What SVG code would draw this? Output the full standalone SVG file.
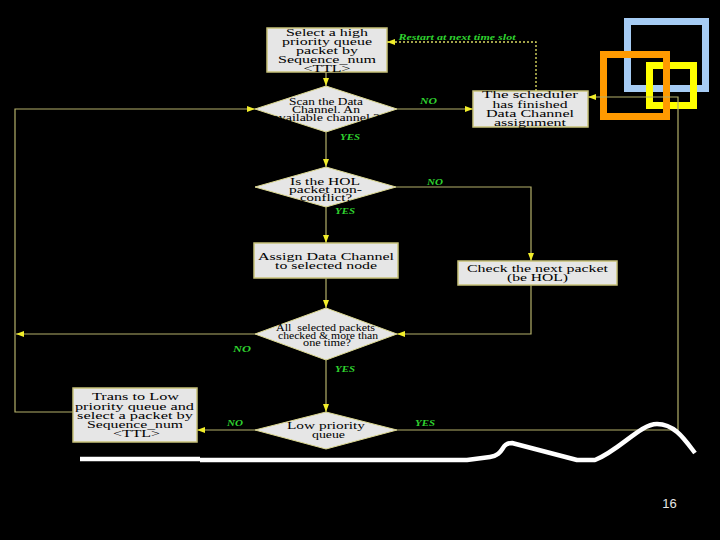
<svg xmlns="http://www.w3.org/2000/svg" width="720" height="540" viewBox="0 0 720 540">
<style>
.bg{fill:#000}
.box{fill:#e6e6e6;stroke:#c8c27a;stroke-width:1.5}
.dia{fill:#e6e6e6;stroke:#dcd890;stroke-width:1}
.t{font-family:"Liberation Serif","Times New Roman",serif;font-size:10.5px;fill:#000;text-anchor:middle}
.td{font-size:9.5px}
.lbl{font-family:"Liberation Serif","Times New Roman",serif;font-size:7.5px;font-weight:bold;font-style:italic;fill:#2fd22f;text-anchor:middle}
.cn{fill:none;stroke:#b4b06a;stroke-width:1.2}
.dot{fill:none;stroke:#d8d860;stroke-width:1.4;stroke-dasharray:2,2}
.deco{fill:none;stroke-width:7}
</style>
<defs>
<marker id="ah" markerUnits="userSpaceOnUse" markerWidth="9" markerHeight="7" refX="8" refY="3" orient="auto">
<path d="M0,0 L8,3 L0,6 z" fill="#f2ee2a"/>
</marker>
</defs>
<rect class="bg" x="0" y="0" width="720" height="540"/>

<g id="decoration">
<rect class="deco" x="627.5" y="21.5" width="78" height="67" stroke="#a6ccf4"/>
<rect class="deco" x="649.5" y="65.5" width="44" height="40" stroke="#ffff00"/>
<rect class="deco" x="603.5" y="54.5" width="63" height="62" stroke="#ff9a00"/>
</g>

<g id="n1">
<rect class="box" x="267" y="28" width="120" height="44"/>
<text class="t" x="327" y="35.5" textLength="82" lengthAdjust="spacingAndGlyphs">Select a high</text>
<text class="t" x="327" y="44.7" textLength="90" lengthAdjust="spacingAndGlyphs">priority queue</text>
<text class="t" x="327" y="53.9" textLength="62" lengthAdjust="spacingAndGlyphs">packet by</text>
<text class="t" x="327" y="63.1" textLength="98" lengthAdjust="spacingAndGlyphs">Sequence_num</text>
<text class="t" x="327" y="72.3" textLength="47" lengthAdjust="spacingAndGlyphs">&lt;TTL&gt;</text>
</g>

<g id="d1">
<polygon class="dia" points="326,86 397,109 326,132 255,109"/>
<text class="t td" x="326" y="104.5" textLength="74" lengthAdjust="spacingAndGlyphs">Scan the Data</text>
<text class="t td" x="326" y="112.5" textLength="68" lengthAdjust="spacingAndGlyphs">Channel. An</text>
<text class="t td" x="326" y="120.5" textLength="107" lengthAdjust="spacingAndGlyphs">available channel ?</text>
</g>

<g id="n2">
<rect class="box" x="473" y="91" width="115" height="36"/>
<text class="t" x="530" y="98" textLength="96" lengthAdjust="spacingAndGlyphs">The scheduler</text>
<text class="t" x="530" y="107.5" textLength="75" lengthAdjust="spacingAndGlyphs">has finished</text>
<text class="t" x="530" y="116.5" textLength="88" lengthAdjust="spacingAndGlyphs">Data Channel</text>
<text class="t" x="530" y="125.5" textLength="72" lengthAdjust="spacingAndGlyphs">assignment</text>
</g>

<g id="d2">
<polygon class="dia" points="326,167 396,187 326,207 255,187"/>
<text class="t td" x="325" y="184.5" textLength="70" lengthAdjust="spacingAndGlyphs">Is the HOL</text>
<text class="t td" x="325.5" y="192.5" textLength="73" lengthAdjust="spacingAndGlyphs">packet non-</text>
<text class="t td" x="326" y="200.5" textLength="52" lengthAdjust="spacingAndGlyphs">conflict?</text>
</g>

<g id="n3">
<rect class="box" x="254" y="243" width="144" height="35"/>
<text class="t" x="326" y="259.5" textLength="136" lengthAdjust="spacingAndGlyphs">Assign Data Channel</text>
<text class="t" x="326" y="268.5" textLength="102" lengthAdjust="spacingAndGlyphs">to selected node</text>
</g>

<g id="n4">
<rect class="box" x="458" y="261" width="159" height="24"/>
<text class="t" x="537.5" y="271.5" textLength="141" lengthAdjust="spacingAndGlyphs">Check the next packet</text>
<text class="t" x="537.5" y="280.5" textLength="61" lengthAdjust="spacingAndGlyphs">(be HOL)</text>
</g>

<g id="d3">
<polygon class="dia" points="326,308 397,334 326,360 255,334"/>
<text class="t td" x="325.5" y="331" textLength="99" lengthAdjust="spacingAndGlyphs" xml:space="preserve">All  selected packets</text>
<text class="t td" x="328" y="338.5" textLength="100" lengthAdjust="spacingAndGlyphs">checked &amp; more than</text>
<text class="t td" x="327" y="346" textLength="48" lengthAdjust="spacingAndGlyphs">one time?</text>
</g>

<g id="d4">
<polygon class="dia" points="326,412 397,430 326,449 255,430"/>
<text class="t" x="326" y="428.5" textLength="78" lengthAdjust="spacingAndGlyphs">Low priority</text>
<text class="t" x="328.5" y="437.5" textLength="33" lengthAdjust="spacingAndGlyphs">queue</text>
</g>

<g id="n5">
<rect class="box" x="73" y="388" width="124" height="54"/>
<text class="t" x="135.5" y="399.5" textLength="87" lengthAdjust="spacingAndGlyphs">Trans to Low</text>
<text class="t" x="134.5" y="409.5" textLength="119" lengthAdjust="spacingAndGlyphs">priority queue and</text>
<text class="t" x="135" y="418.5" textLength="116" lengthAdjust="spacingAndGlyphs">select a packet by</text>
<text class="t" x="135" y="428" textLength="96" lengthAdjust="spacingAndGlyphs">Sequence_num</text>
<text class="t" x="136.5" y="436.5" textLength="47" lengthAdjust="spacingAndGlyphs">&lt;TTL&gt;</text>
</g>

<g id="connectors">
<path class="cn" d="M326,72 V86" marker-end="url(#ah)"/>
<path class="cn" d="M326,132 V167" marker-end="url(#ah)"/>
<path class="cn" d="M326,207 V243" marker-end="url(#ah)"/>
<path class="cn" d="M326,278 V308" marker-end="url(#ah)"/>
<path class="cn" d="M326,360 V412" marker-end="url(#ah)"/>
<path class="cn" d="M397,109 H473" marker-end="url(#ah)"/>
<path class="cn" d="M396,187 H531 V261" marker-end="url(#ah)"/>
<path class="cn" d="M531,285 V334 H397" marker-end="url(#ah)"/>
<path class="cn" d="M255,334 H16" marker-end="url(#ah)"/>
<path class="cn" d="M73,412 H15 V109 H255" marker-end="url(#ah)"/>
<path class="cn" d="M255,430 H197" marker-end="url(#ah)"/>
<path class="cn" d="M397,430 H678 V97 H588" marker-end="url(#ah)"/>
<path class="dot" d="M536,91 V42 H387" marker-end="url(#ah)"/>
<text class="lbl" x="457" y="39.5" textLength="117" lengthAdjust="spacingAndGlyphs">Restart at next time slot</text>
<text class="lbl" x="428.5" y="103.5" textLength="17" lengthAdjust="spacingAndGlyphs">NO</text>
<text class="lbl" x="350" y="139.5" textLength="20" lengthAdjust="spacingAndGlyphs">YES</text>
<text class="lbl" x="435" y="184.5" textLength="16" lengthAdjust="spacingAndGlyphs">NO</text>
<text class="lbl" x="345" y="213.5" textLength="20" lengthAdjust="spacingAndGlyphs">YES</text>
<text class="lbl" x="242" y="351.5" textLength="18" lengthAdjust="spacingAndGlyphs">NO</text>
<text class="lbl" x="345" y="371.5" textLength="20" lengthAdjust="spacingAndGlyphs">YES</text>
<text class="lbl" x="235" y="425.5" textLength="16" lengthAdjust="spacingAndGlyphs">NO</text>
<text class="lbl" x="425" y="425.5" textLength="20" lengthAdjust="spacingAndGlyphs">YES</text>
</g>

<g id="wave">
<path d="M80,459 H200 M200,460 H467 L490,457 C505,455 500,443 512,443 L577,460 L595,460 C620,450 640,424 657,424 C675,424 685,440 695,453" fill="none" stroke="#ffffff" stroke-width="4.5" stroke-linejoin="round"/>
</g>

<text x="669.5" y="508" font-family="Liberation Sans, Arial, sans-serif" font-size="13" fill="#e6e6e6" text-anchor="middle">16</text>
</svg>
